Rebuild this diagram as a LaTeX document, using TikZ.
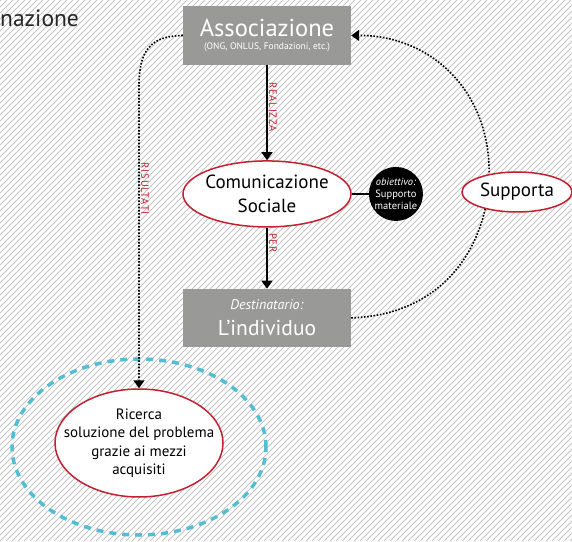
\documentclass[tikz,border=0pt]{standalone}
\usepackage{fontspec}
\setmainfont{PT Sans}
\usetikzlibrary{calc, arrows.meta, positioning, shapes.geometric}

\definecolor{boxgray}{RGB}{153,154,152}
\definecolor{bordo}{RGB}{196,32,48}
\definecolor{azzurro}{RGB}{82,190,212}
\definecolor{righe}{RGB}{196,196,196}

\begin{document}
\begin{tikzpicture}[x=1pt, y=1pt, node distance=15pt and 40pt,
                block/.style = {
                    rectangle, fill=boxgray, text=white,
                    minimum width=168pt, minimum height=59pt,
                    inner sep=0pt, align=center
                },
                bubble/.style = {
                    ellipse, draw=bordo, fill=white,
                    line width=1.5pt, inner sep=0pt,
                    align=center
                },
                goal/.style = {
                    circle, fill=black, text=white,
                    minimum size=54pt, inner sep=0pt, align=center,
                    font=\fontsize{10.5}{12}\selectfont
                },
                lbl/.style = {
                    text=bordo, font=\fontsize{10.5}{11}\selectfont\addfontfeature{LetterSpace=8},
                    inner sep=1.5pt, rotate=-90, anchor=south
                },
                arrow/.style = {
                    draw, -{Triangle[length=8pt, width=11pt]}, line width=1.5pt
                },
                dots/.style = {
                    draw, -{Triangle[length=8pt, width=11pt]}, line width=1.6pt,
                    dash pattern=on 1.6pt off 1.6pt
                }
                ]

                \useasboundingbox (0,0) rectangle (572,541);
                \begin{scope}
                    \clip (0,0) rectangle (572,541);
                    \fill[white] (0,0) rectangle (572,541);
                    \foreach \i in {-546,-540,...,572}
                        \draw[righe, line width=0.9pt] (\i,0) -- ++(541,541);
                \end{scope}

                \node[anchor=west, inner sep=0pt, text=black!85,
                      font=\fontsize{23.5}{24}\selectfont] (titolo) at (0,523) {nazione};

                \node[block] (assoc) at (267,505.5) {\fontsize{24.5}{26}\selectfont Associazione\\[1.5pt]\fontsize{9.5}{13}\selectfont (ONG, ONLUS, Fondazioni, etc.)};
                \node[bubble, minimum width=168pt, minimum height=66pt, inner xsep=-4pt, below=95pt of assoc,
                      font=\fontsize{19}{24}\selectfont] (comm) {Comunicazione\\Sociale};
                \node[goal, right=17pt of comm] (obiettivo) {\textit{obiettivo:}\\Supporto\\materiale};
                \node[block, minimum height=58pt, below=61pt of comm] (dest) {\fontsize{14}{16}\selectfont\textit{Destinatario:}\\[10pt]\fontsize{21.5}{24}\selectfont L'individuo};

                \path[dots] (dest.east) .. controls (440,226) and (485,290) .. (489,360)
                    .. controls (493,450) and (430,506) .. (assoc.east);

                \node[bubble, minimum width=110pt, minimum height=40pt,
                      font=\fontsize{19}{22}\selectfont] (supporta) at (517,349) {Supporta};
                \node[ellipse, draw=azzurro, line width=3.5pt, dash pattern=on 7pt off 6pt,
                      minimum width=254pt, minimum height=176pt] (alone) at (139,94) {};
                \node[bubble, minimum width=168pt, minimum height=108pt, inner xsep=-17pt,
                      font=\fontsize{15}{18.5}\selectfont] (ricerca) at (139,98) {Ricerca\\soluzione del problema\\grazie ai mezzi\\acquisiti};

                \path[arrow] (assoc) -- node[lbl, pos=0.44] {REALIZZA} (comm);
                \path[arrow] (comm) -- node[lbl, pos=0.25] {PER} (dest);
                \draw[line width=1.5pt] (comm) -- (obiettivo);
                \path[dots] (assoc.west) .. controls (150,505) and (139,490) .. (139,455)
                    -- node[lbl, pos=0.34] {RISULTATI} (ricerca.north);
            \end{tikzpicture}
\end{document}
